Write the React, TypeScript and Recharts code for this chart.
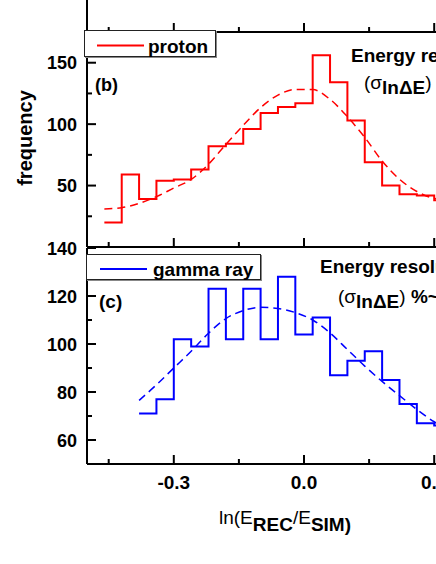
import { LineChart, Line, XAxis, YAxis, Legend } from "recharts";

// histogram bins (centres), width 0.04
const BIN = 0.04;
const protonBins = [-0.44, -0.4, -0.36, -0.32, -0.28, -0.24, -0.2, -0.16, -0.12, -0.08, -0.04, 0, 0.04, 0.08, 0.12, 0.16, 0.2, 0.24, 0.28, 0.32];
const protonCounts = [20, 59, 39, 54, 55, 63, 82, 84, 96, 109, 114, 117, 156, 134, 103, 69, 50, 43, 42, 38];
const gammaBins = [-0.36, -0.32, -0.28, -0.24, -0.2, -0.16, -0.12, -0.08, -0.04, 0, 0.04, 0.08, 0.12, 0.16, 0.2, 0.24, 0.28, 0.32];
const gammaCounts = [71, 77, 102, 99, 123, 102, 123, 102, 128, 104, 111, 87, 93, 97, 85, 75, 67, 66];

// gaussian fits
const protonFitX = [-0.46, -0.42, -0.38, -0.34, -0.3, -0.26, -0.22, -0.18, -0.14, -0.1, -0.06, -0.02, 0.02, 0.06, 0.1, 0.14, 0.18, 0.22, 0.26, 0.3, 0.31];
const protonFitY = [31, 32, 35.5, 41, 48, 55, 67.4, 83.5, 99, 113.5, 123.6, 128.3, 128.1, 120.2, 106, 89.2, 70, 55.2, 45.2, 39.6, 39];
const gammaFitX = [-0.38, -0.34, -0.3, -0.26, -0.22, -0.18, -0.14, -0.1, -0.06, -0.02, 0.02, 0.06, 0.1, 0.14, 0.18, 0.22, 0.26, 0.3, 0.31];
const gammaFitY = [76.5, 83, 90, 97, 104.5, 110.6, 113.9, 115.3, 114.8, 113.1, 110, 104.6, 97.7, 90.8, 84.4, 78.5, 72.7, 67.6, 66.5];

const xMajor = [-0.3, 0, 0.3];
const xMinor = [-0.45, -0.15, 0.15, 0.45];
const protonMajor = [50, 100, 150];
const protonMinor = [25, 75, 125];
const gammaMajor = [60, 80, 100, 120, 140];
const gammaMinor = [70, 90, 110, 130];

const FONT = "'Liberation Sans', Arial, sans-serif";
const W = 541;
const X_DOMAIN = [-0.5, 0.5];

const steps = (centers: number[], counts: number[]) => [
  ...centers.map((c, i) => ({ x: c - BIN / 2, y: counts[i] })),
  { x: centers[centers.length - 1] + BIN / 2, y: counts[counts.length - 1] },
];
const fit = (xs: number[], ys: number[]) => xs.map((x, i) => ({ x, y: ys[i] }));

const isIn = (list: number[], v: number) => list.some((t) => Math.abs(t - v) < 1e-9);
const sorted = (a: number[], b: number[]) => [...a, ...b].sort((p, q) => p - q);

function XTick(props: any) {
  const { x, y, payload, labels } = props;
  const major = isIn(xMajor, payload.value);
  return (
    <g>
      <line x1={x} x2={x} y1={y} y2={y - (major ? 9 : 5)} stroke="#000" strokeWidth={2} />
      {labels && major && (
        <text x={x} y={y + 25} textAnchor="middle" fontSize={19} fontWeight="bold" fontFamily={FONT} fill="#000">
          {payload.value.toFixed(1)}
        </text>
      )}
    </g>
  );
}

function YTick(props: any) {
  const { x, y, payload, major } = props;
  const isMajor = isIn(major, payload.value);
  return (
    <g>
      <line x1={x} x2={x + (isMajor ? 9 : 5)} y1={y} y2={y} stroke="#000" strokeWidth={2} />
      {isMajor && (
        <text x={x - 10} y={y + 6.5} textAnchor="end" fontSize={18} fontWeight="bold" fontFamily={FONT} fill="#000">
          {payload.value}
        </text>
      )}
    </g>
  );
}

function LegendBox(props: any) {
  const { payload, w, h, lineX, lineW, textX } = props;
  const item = (payload || [])[0];
  if (!item) return null;
  return (
    <div
      style={{
        position: "relative", width: w, height: h, boxSizing: "border-box", background: "#fff",
        border: "1px solid #222", boxShadow: "1px 1px 0 #888", fontFamily: FONT,
      }}
    >
      <svg width={w} height={h} style={{ position: "absolute", left: 0, top: 0 }}>
        <line x1={lineX} x2={lineX + lineW} y1={h / 2 + 1} y2={h / 2 + 1} stroke={item.color} strokeWidth={2} />
        <text x={textX} y={h / 2 + 8} fontSize={19} fontWeight="bold" fontFamily={FONT} fill="#000">
          {item.value}
        </text>
      </svg>
    </div>
  );
}

const axisLine = { stroke: "#000", strokeWidth: 2 };

export default function App() {
  const protonSteps = steps(protonBins, protonCounts);
  const gammaSteps = steps(gammaBins, gammaCounts);
  const xTicks = sorted(xMajor, xMinor);

  return (
    <div style={{ position: "absolute", left: 0, top: 0, width: 436, height: 564, overflow: "hidden", background: "#fff" }}>
      {/* panel (a), only its bottom edge shows */}
      <div style={{ position: "absolute", left: 0, top: -120 }}>
        <LineChart width={W} height={160} data={protonSteps} margin={{ top: 0, right: 20, bottom: 7, left: 0 }}>
          <XAxis dataKey="x" type="number" domain={X_DOMAIN} allowDataOverflow ticks={xTicks} interval={0}
            height={1} tickSize={0} tickMargin={0} tickLine={false} axisLine={axisLine} tick={<XTick labels={false} />} />
          <YAxis type="number" domain={[0, 1]} allowDataOverflow ticks={[]} width={87} axisLine={axisLine} tickLine={false} />
        </LineChart>
      </div>

      {/* panel (b) proton */}
      <div style={{ position: "absolute", left: 0, top: 0 }}>
        <LineChart width={W} height={260} margin={{ top: 32, right: 20, bottom: 12, left: 0 }}>
          <XAxis dataKey="x" type="number" domain={X_DOMAIN} allowDataOverflow ticks={xTicks} interval={0}
            height={1} tickSize={0} tickMargin={0} tickLine={false} axisLine={axisLine} tick={<XTick labels={false} />} />
          <YAxis type="number" domain={[0, 175]} allowDataOverflow ticks={sorted(protonMajor, protonMinor)} interval={0}
            width={87} tickSize={0} tickMargin={0} tickLine={false} axisLine={axisLine} tick={<YTick major={protonMajor} />} />
          <Line data={fit(protonFitX, protonFitY)} dataKey="y" type="monotone" stroke="#ff0000" strokeWidth={1.5}
            strokeDasharray="8 5" dot={false} legendType="none" isAnimationActive={false} />
          <Line data={protonSteps} dataKey="y" name="proton" type="stepAfter" stroke="#ff0000" strokeWidth={2}
            dot={false} isAnimationActive={false} />
          <Legend layout="horizontal" verticalAlign="middle" align="center"
            wrapperStyle={{ left: 84, top: 30, width: 132, height: 27 }}
            content={(p: any) => <LegendBox {...p} w={132} h={27} lineX={12} lineW={47} textX={63} />} />
        </LineChart>
      </div>

      {/* panel (c) gamma ray */}
      <div style={{ position: "absolute", left: 0, top: 0 }}>
        <LineChart width={W} height={564} margin={{ top: 248, right: 20, bottom: 70, left: 0 }}>
          <XAxis dataKey="x" type="number" domain={X_DOMAIN} allowDataOverflow ticks={xTicks} interval={0}
            height={30} tickSize={0} tickMargin={0} tickLine={false} axisLine={axisLine} tick={<XTick labels />} />
          <YAxis type="number" domain={[50, 140]} allowDataOverflow ticks={sorted(gammaMajor, gammaMinor)} interval={0}
            width={87} tickSize={0} tickMargin={0} tickLine={false} axisLine={axisLine} tick={<YTick major={gammaMajor} />} />
          <Line data={fit(gammaFitX, gammaFitY)} dataKey="y" type="monotone" stroke="#0000ff" strokeWidth={1.5}
            strokeDasharray="8 5" dot={false} legendType="none" isAnimationActive={false} />
          <Line data={gammaSteps} dataKey="y" name="gamma ray" type="stepAfter" stroke="#0000ff" strokeWidth={2}
            dot={false} isAnimationActive={false} />
          <Legend layout="horizontal" verticalAlign="middle" align="center"
            wrapperStyle={{ left: 86, top: 254, width: 175, height: 26 }}
            content={(p: any) => <LegendBox {...p} w={175} h={26} lineX={13} lineW={47} textX={66} />} />
        </LineChart>
      </div>

      {/* annotations */}
      <svg width={436} height={564} style={{ position: "absolute", left: 0, top: 0, pointerEvents: "none" }}
        fontFamily={FONT} fill="#000">
        <text transform="translate(25,138) rotate(-90)" textAnchor="middle" dominantBaseline="central"
          fontSize={20} fontWeight="bold">frequency</text>
        <text x={95} y={91} fontSize={18} fontWeight="bold">(b)</text>
        <text x={99} y={308} fontSize={19} fontWeight="bold">(c)</text>

        <text x={351} y={62} fontSize={19} fontWeight="bold">Energy resolution</text>
        <text x={364} y={89} fontSize={19}>
          (σ<tspan fontWeight="bold" dy={5}>lnΔE</tspan><tspan dy={-5}>)</tspan>
          <tspan fontWeight="bold"> %~</tspan>
        </text>

        <text x={320} y={273} fontSize={19} fontWeight="bold">Energy resolution</text>
        <text x={338} y={303} fontSize={19}>
          (σ<tspan fontWeight="bold" dy={5}>lnΔE</tspan><tspan dy={-5}>)</tspan>
          <tspan fontWeight="bold"> %~</tspan>
        </text>

        <text x={219} y={524} fontSize={19}>
          ln(E<tspan fontWeight="bold" dy={7}>REC</tspan><tspan dy={-7}>/E</tspan>
          <tspan fontWeight="bold" dy={7}>SIM)</tspan>
        </text>
      </svg>
    </div>
  );
}
